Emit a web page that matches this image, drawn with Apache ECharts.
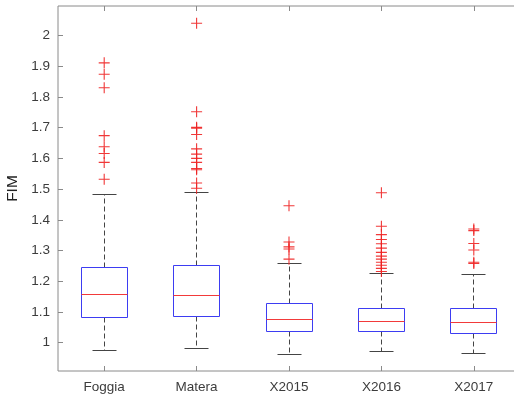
<!DOCTYPE html>
<html>
<head>
<meta charset="utf-8">
<script src="https://cdn.jsdelivr.net/npm/echarts@6/dist/echarts.min.js"></script>
<style>
  html, body { margin: 0; padding: 0; background: #ffffff; overflow: hidden; }
  #chart { width: 514px; height: 403px; }
</style>
</head>
<body>
<div id="chart"></div>
<script>
// FIM distribution per site / year
const categories = ['Foggia', 'Matera', 'X2015', 'X2016', 'X2017'];
const lowerWhisker = [0.975, 0.980, 0.962, 0.970, 0.965];
const lowerQuartile = [1.081, 1.086, 1.037, 1.037, 1.029];
const medians = [1.156, 1.155, 1.074, 1.070, 1.065];
const upperQuartile = [1.246, 1.250, 1.128, 1.113, 1.113];
const upperWhisker = [1.482, 1.488, 1.257, 1.224, 1.221];

const outliersFoggia = [1.911, 1.874, 1.830, 1.674, 1.638, 1.616, 1.587, 1.532];
const outliersMatera = [2.040, 1.752, 1.701, 1.698, 1.678, 1.631, 1.614, 1.600, 1.587, 1.567, 1.563, 1.520, 1.503];
const outliersX2015 = [1.446, 1.328, 1.312, 1.305, 1.272];
const outliersX2016 = [1.488, 1.379, 1.352, 1.336, 1.322, 1.308, 1.294, 1.282, 1.272, 1.262, 1.252, 1.242, 1.232];
const outliersX2017 = [1.370, 1.365, 1.323, 1.302, 1.262, 1.258];

const yTickValues = [1, 1.1, 1.2, 1.3, 1.4, 1.5, 1.6, 1.7, 1.8, 1.9, 2];
const yMin = 0.908;
const yMax = 2.096;

const boxData = categories.map((c, i) => [i, lowerWhisker[i], lowerQuartile[i], medians[i], upperQuartile[i], upperWhisker[i]]);
const outlierData = [];
[outliersFoggia, outliersMatera, outliersX2015, outliersX2016, outliersX2017].forEach((list, i) => {
  list.forEach(v => outlierData.push([i, v]));
});

const axisColor = '#8a8a8a';
const textColor = '#3c3c3c';
const fontFamily = '"Liberation Sans", Arial, Helvetica, sans-serif';

function crisp(v) { return Math.round(v - 0.5) + 0.5; }

// whiskers (dashed), caps, box outline and median line for one category
function renderBox(params, api) {
  const idx = api.value(0);
  const cx = crisp(api.coord([idx, 1])[0]);
  const band = api.size([1, 0])[0];
  const halfBox = band * 0.25;
  const halfCap = band * 0.125;
  const y = k => crisp(api.coord([idx, api.value(k)])[1]);
  const yLo = y(1), yQ1 = y(2), yMed = y(3), yQ3 = y(4), yHi = y(5);
  const whisk = { stroke: '#444444', lineWidth: 1, lineDash: [5, 3], fill: null };
  const cap = { stroke: '#444444', lineWidth: 1, fill: null };
  return {
    type: 'group',
    children: [
      { type: 'line', shape: { x1: cx, y1: yQ3, x2: cx, y2: yHi }, style: whisk },
      { type: 'line', shape: { x1: cx, y1: yQ1, x2: cx, y2: yLo }, style: whisk },
      { type: 'line', shape: { x1: crisp(cx - halfCap), y1: yHi, x2: crisp(cx + halfCap), y2: yHi }, style: cap },
      { type: 'line', shape: { x1: crisp(cx - halfCap), y1: yLo, x2: crisp(cx + halfCap), y2: yLo }, style: cap },
      { type: 'rect', shape: { x: crisp(cx - halfBox), y: yQ3, width: Math.round(halfBox * 2), height: yQ1 - yQ3 },
        style: { stroke: '#3d3df2', lineWidth: 1, fill: '#ffffff' } },
      { type: 'line', shape: { x1: crisp(cx - halfBox), y1: yMed, x2: crisp(cx - halfBox) + Math.round(halfBox * 2), y2: yMed },
        style: { stroke: '#f23a3a', lineWidth: 1 } }
    ]
  };
}

const chart = echarts.init(document.getElementById('chart'), null, { renderer: 'canvas' });
chart.setOption({
  animation: false,
  backgroundColor: '#ffffff',
  grid: {
    left: 58, right: -6, top: 6, bottom: 32, containLabel: false, outerBoundsMode: 'none',
    show: true, borderColor: axisColor, borderWidth: 1, backgroundColor: 'transparent'
  },
  // the plot frame continues past the right edge of the page: mask its clipped side
  graphic: [
    { type: 'rect', z: 100, silent: true, shape: { x: 508, y: 8, width: 6, height: 361 }, style: { fill: '#ffffff' } }
  ],
  xAxis: [
    {
      type: 'category',
      data: categories,
      position: 'bottom',
      boundaryGap: true,
      axisLine: { show: false },
      axisTick: { show: true, inside: true, length: 5, alignWithLabel: true, lineStyle: { color: axisColor } },
      axisLabel: { color: textColor, fontSize: 13.5, fontFamily: fontFamily, margin: 9 },
      splitLine: { show: false }
    },
    {
      type: 'category',
      data: categories,
      position: 'top',
      boundaryGap: true,
      axisLine: { show: false },
      axisTick: { show: true, inside: true, length: 5, alignWithLabel: true, lineStyle: { color: axisColor } },
      axisLabel: { show: false },
      splitLine: { show: false }
    }
  ],
  yAxis: {
    type: 'value',
    min: yMin,
    max: yMax,
    name: 'FIM',
    nameLocation: 'middle',
    nameGap: 30,
    nameTextStyle: { color: '#222222', fontSize: 15.5, fontFamily: fontFamily },
    axisLine: { show: false },
    axisTick: { show: true, inside: true, length: 5, customValues: yTickValues, lineStyle: { color: axisColor } },
    axisLabel: {
      color: textColor, fontSize: 13.5, fontFamily: fontFamily, margin: 8,
      customValues: yTickValues,
      formatter: v => String(Math.round(v * 10) / 10)
    },
    splitLine: { show: false }
  },
  series: [
    {
      type: 'custom',
      name: 'box',
      xAxisIndex: 0,
      renderItem: renderBox,
      encode: { x: 0, y: [1, 2, 3, 4, 5] },
      data: boxData,
      z: 2
    },
    {
      type: 'scatter',
      name: 'outliers',
      xAxisIndex: 0,
      data: outlierData,
      symbol: 'path://M0,4.5H10V5.5H0Z M4.5,0H5.5V10H4.5Z',
      symbolSize: 11,
      itemStyle: { color: '#ee2222', opacity: 0.9 },
      z: 3
    }
  ]
});
</script>
</body>
</html>
